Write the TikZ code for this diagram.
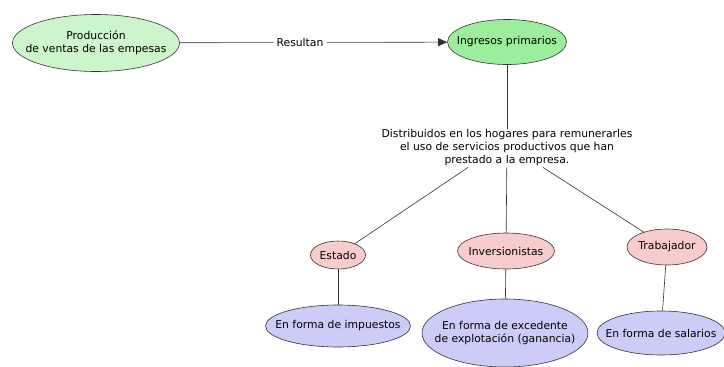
\documentclass[tikz,border=0pt]{standalone}
\usepackage{fontspec}
\setmainfont{DejaVu Sans}
\usetikzlibrary{shapes.geometric,arrows.meta}
\definecolor{lgreen}{HTML}{CCF5CC}
\definecolor{mgreen}{HTML}{9CEE9C}
\definecolor{lpink}{HTML}{F8CCCC}
\definecolor{lblue}{HTML}{CCCCF8}
\tikzset{
  el/.style={ellipse, draw=black!80, line width=0.6pt, inner sep=0pt},
  conn/.style={draw=black!80, line width=0.6pt},
  lbl/.style={align=center, font=\fontsize{10.8}{13}\selectfont, inner sep=1pt}
}
\begin{document}
\begin{tikzpicture}[x=1pt,y=-1pt]
\useasboundingbox (0,0) rectangle (724,367);
\clip (0,0) rectangle (724,367);
\node[el, fill=lgreen, minimum width=167, minimum height=57] (prod) at (96,43) {};
\node[lbl] (prodt) at (prod.center) {Producción\\de ventas de las empesas};
\node[el, fill=mgreen, minimum width=119, minimum height=45] (ing) at (507,42) {};
\node[lbl] (ingt) at (ing.center) {Ingresos primarios};
\node[lbl, inner xsep=3pt] (res) at (300,42.5) {Resultan};
\node[lbl] (dist) at (507,148) {Distribuidos en los hogares para remunerarles\\el uso de servicios productivos que han\\prestado a la empresa.};
\node[el, fill=lpink, minimum width=55, minimum height=28] (est) at (338,255) {};
\node[lbl] (estt) at (est.center) {Estado};
\node[el, fill=lpink, minimum width=97, minimum height=36] (inv) at (506,251) {};
\node[lbl] (invt) at (inv.center) {Inversionistas};
\node[el, fill=lpink, minimum width=80, minimum height=36] (trab) at (667,247) {};
\node[lbl] (trabt) at (trab.center) {Trabajador};
\node[el, fill=lblue, minimum width=145, minimum height=42] (imp) at (338,326) {};
\node[lbl] (impt) at (imp.center) {En forma de impuestos};
\node[el, fill=lblue, minimum width=166, minimum height=68] (exc) at (505,333) {};
\node[lbl] (exct) at (exc.center) {En forma de excedente\\de explotación (ganancia)};
\node[el, fill=lblue, minimum width=128, minimum height=44] (sal) at (661,333) {};
\node[lbl] (salt) at (sal.center) {En forma de salarios};
\draw[conn] (prod) -- (res);
\draw[conn, -{Triangle[length=9pt,width=8pt]}] (res) -- (ing);
\draw[conn] (ing) -- (dist);
\coordinate (d1) at ([xshift=-39]dist.south);
\draw[conn] (d1) -- (est);
\draw[conn] (dist) -- (inv);
\coordinate (d3) at ([xshift=36]dist.south);
\draw[conn] (d3) -- (trab);
\draw[conn] (est) -- (imp);
\draw[conn] (inv) -- (exc);
\draw[conn] (trab) -- (sal);
\end{tikzpicture}
\end{document}
